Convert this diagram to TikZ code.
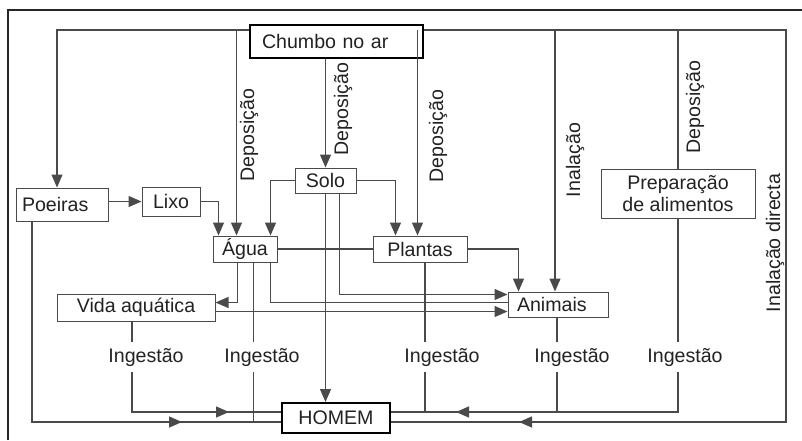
\documentclass[tikz,border=0pt]{standalone}
\usepackage{fontspec}
\setmainfont{Liberation Sans}
\usetikzlibrary{positioning, arrows.meta, calc, decorations.markings}
\definecolor{linegray}{HTML}{4A4A4A}
\definecolor{ink}{HTML}{222222}
\tikzset{
  box/.style={draw=linegray, line width=1pt, fill=white, text=ink, inner sep=0pt,
    minimum width=#1, minimum height=26pt},
  box/.default=60pt,
  keybox/.style={box=#1, draw=black, line width=2pt},
  con/.style={draw=linegray, line width=1.2pt},
  arr/.style={con, -{Triangle[length=13pt, width=11pt]}},
  arrat/.style={con, postaction={decorate}, decoration={markings,
    mark=at position #1 with {\arrow{Triangle[length=13pt, width=11pt]}}}},
  lbl/.style={fill=white, text=ink, inner xsep=2pt, inner ysep=6pt},
  vlbl/.style={rotate=90, text=ink, inner sep=1pt},
}

\begin{document}
\begin{tikzpicture}[x=1pt, y=-1pt, font=\fontsize{19.6}{22.5}\selectfont]
\useasboundingbox (0,0) rectangle (802,440);
\draw[line width=2pt, black!85] (8,440) -- (8,10) -- (802,10);

% ── Caixas ──────────────────────────────────────────────────
\node[keybox=173pt, minimum height=33pt, text width=149pt, align=left] (ar) at (336.5,41.5) {Chumbo no ar};
\node[box=61pt, minimum height=25pt] (solo) at (325.5,180.5) {Solo};
\node[box=92pt, minimum height=33pt, text width=80pt, align=left] (poe) at (62,204.5) {Poeiras};
\node[box=58pt, minimum height=29pt] (lixo) at (171,201.5) {Lixo};
\node[box=64pt] (agua) at (245,249) {Água};
\node[box=94pt] (plan) at (420,249) {Plantas};
\node[box=100pt, minimum height=25pt, text width=82pt, align=left] (anim) at (558,304.5) {Animais};
\node[box=158pt, minimum height=27pt] (vida) at (136,307.5) {Vida aquática};
\node[box=154pt, minimum height=49pt, align=center] (prep) at (678,193.5) {Preparação\\de alimentos};
\node[keybox=108pt, minimum height=30pt] (homem) at (336,418) {HOMEM};

\coordinate (tl) at (57,30);
\coordinate (tr) at (786,30);
\coordinate (h1) at ([yshift=6pt]homem.center);
\coordinate (h2) at ([yshift=-4pt]homem.center);

% ── A partir do ar ──────────────────────────────────────────
\draw[arr] (ar.west |- tl) -| ([xshift=-5pt]poe.north);
\draw[arr] ([xshift=24pt]agua.north west |- tl) -- ([xshift=24pt]agua.north west);
\draw[arr] (ar.south -| solo.north) -- (solo.north);
\draw[arrat=-128pt] (ar.east |- tr) -- (tr) |- (h2 -| homem.east);
\draw[arr] ([xshift=45pt]plan.north west |- tr) -- ([xshift=45pt]plan.north west);
\draw[arr] ([xshift=-3pt]anim.north |- tr) -- ([xshift=-3pt]anim.north);
\draw[con] (prep.north |- tr) -- (prep.north);

% ── Entre os meios ──────────────────────────────────────────
\draw[arr] (poe.east |- lixo.west) -- (lixo.west);
\draw[arr] (lixo.east) -| ([xshift=6pt]agua.north west);
\draw[arr] (solo.west) -| ([xshift=-7pt]agua.north east);
\draw[arr] (solo.east) -| ([xshift=23pt]plan.north west);
\draw[con] (agua.east) -- (plan.west);
\draw[arr] (plan.east) -| ([xshift=11pt]anim.north west);
\draw[arr] ([xshift=25pt]agua.south west) |- ([yshift=5pt]vida.east);
\draw[con] ([xshift=-7pt]agua.south east) |- ([yshift=2pt]anim.west);
\draw[arr] ([xshift=14pt]solo.south) |- ([yshift=10pt]anim.west);
\draw[arr] ([yshift=-4pt]vida.east) -- ([yshift=-4pt]vida.east -| anim.west);

% ── Para o homem ────────────────────────────────────────────
\draw[arr] (solo.south) -- (solo.south |- homem.north);
\draw[arrat=-99pt] ([xshift=-30pt]poe.south) |- (h2 -| homem.west);
\draw[arrat=-52pt] ([xshift=-4pt]vida.south) |- (h1 -| homem.west);
\draw[con] ([xshift=41pt]agua.south west) -- ([xshift=41pt]agua.south west |- h2);
\draw[con] ([xshift=5pt]plan.south) -- ([xshift=5pt]plan.south |- h1);
\draw[con] ([xshift=-1pt]anim.south) -- ([xshift=-1pt]anim.south |- h1);
\draw[arrat=-65pt] (prep.south) |- (h1 -| homem.east);

% ── Rótulos ─────────────────────────────────────────────────
\node[vlbl] (dep1) at (249,135) {Deposição};
\node[vlbl] (dep2) at (343,109) {Deposição};
\node[vlbl] (dep3) at (438,136) {Deposição};
\node[vlbl] (inal) at (575,160) {Inalação};
\node[vlbl] (dep4) at (695,107) {Deposição};
\node[vlbl] (inald) at (775,243) {Inalação directa};
\node[lbl] (ing1) at (146,357) {Ingestão};
\node[lbl] (ing2) at (262,357) {Ingestão};
\node[lbl] (ing3) at (442,357) {Ingestão};
\node[lbl] (ing4) at (572,357) {Ingestão};
\node[lbl] (ing5) at (685,357) {Ingestão};

\end{tikzpicture}
\end{document}
